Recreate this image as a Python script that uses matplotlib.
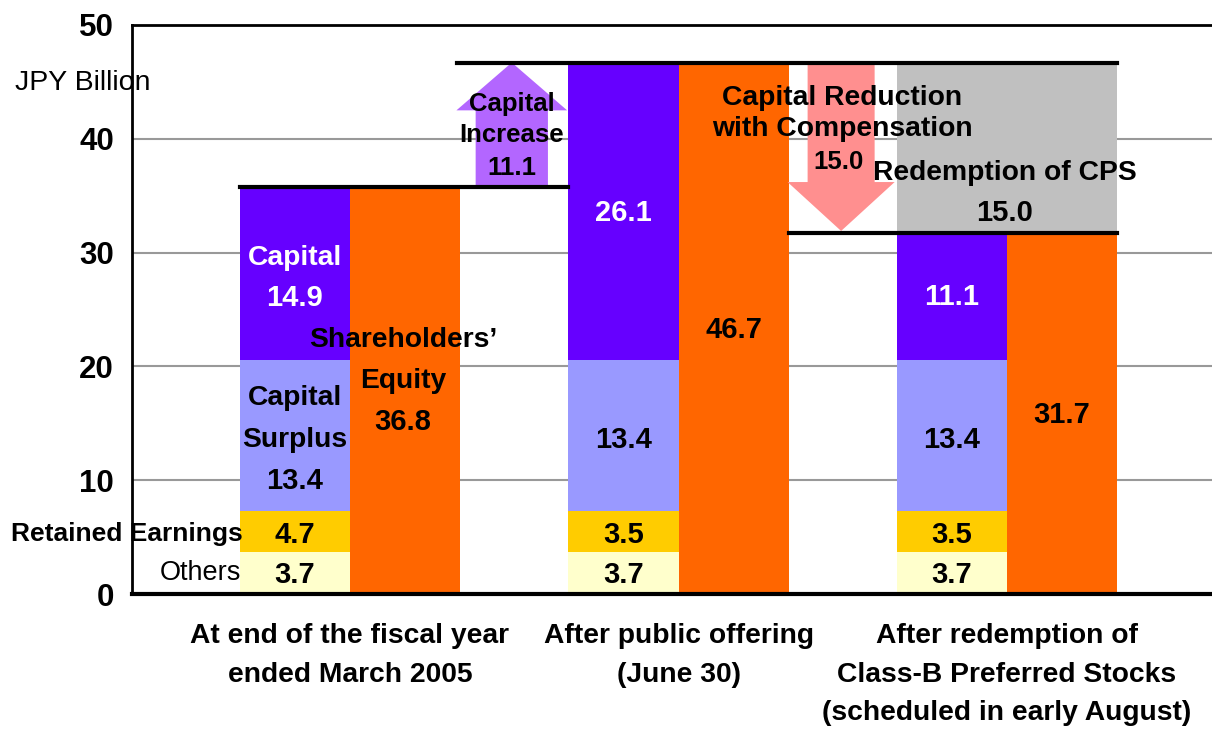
import numpy as np
import matplotlib
matplotlib.use('Agg')
import matplotlib.pyplot as plt
from matplotlib.patches import Polygon

plt.rcParams['font.family'] = ['Liberation Sans', 'DejaVu Sans']

# data (JPY billion)
categories = ['At end of the fiscal year\nended March 2005',
              'After public offering\n(June 30)',
              'After redemption of\nClass-B Preferred Stocks\n(scheduled in early August)']
others = [3.7, 3.7, 3.7]
retained = [3.6, 3.6, 3.6]
surplus = [13.3, 13.3, 13.3]
capital = [15.2, 26.1, 11.1]
equity = [35.8, 46.7, 31.7]
cps_redeemed = 15.0

others_lbl = ['3.7', '3.7', '3.7']
retained_lbl = ['4.7', '3.5', '3.5']
surplus_lbl = ['13.4', '13.4', '13.4']
capital_lbl = ['14.9', '26.1', '11.1']
equity_lbl = ['36.8', '46.7', '31.7']

c_others = '#FFFFCC'
c_ret = '#FFCC00'
c_sur = '#9999FF'
c_cap = '#6600FF'
c_eq = '#FF6600'

x = np.arange(3)
w = 0.335
xs = x - w/2   # stacked bars
xe = x + w/2   # equity bars

fig = plt.figure(figsize=(12.12, 7.31), dpi=100)
ax = fig.add_axes([132/1212, 1-594/731, 1-132/1212, (594-25)/731])

b1 = np.array(others)
b2 = b1 + np.array(retained)
b3 = b2 + np.array(surplus)
ax.bar(xs, others, w, color=c_others, zorder=2)
ax.bar(xs, retained, w, bottom=b1, color=c_ret, zorder=2)
ax.bar(xs, surplus, w, bottom=b2, color=c_sur, zorder=2)
ax.bar(xs, capital, w, bottom=b3, color=c_cap, zorder=2)
ax.bar(xe, equity, w, color=c_eq, zorder=2)
# redemption of CPS (grey block over last group)
ax.bar(x[2], cps_redeemed, 2*w, bottom=equity[2], color='#C0C0C0', zorder=2)

# level lines
ax.plot([xs[0]-w/2, xs[1]-w/2], [equity[0]]*2, color='black', lw=3, zorder=4)
ax.plot([xe[0]+w/2 - 0.01, xe[2]+w/2], [equity[1]]*2, color='black', lw=3, zorder=4)
ax.plot([xe[1]+w/2, xe[2]+w/2], [equity[2]]*2, color='black', lw=3, zorder=4)

# arrows
def arrow(xc, y0, y1, yh, sw, hw, color):
    pts = [(xc-sw/2, y0), (xc-sw/2, yh), (xc-hw/2, yh), (xc, y1),
           (xc+hw/2, yh), (xc+sw/2, yh), (xc+sw/2, y0)]
    ax.add_patch(Polygon(pts, closed=True, color=color, lw=0, zorder=3))

arrow(0.4925, equity[0], equity[1], 42.5, 0.22, 0.337, '#B366FF')
arrow(1.495, equity[1], equity[2] + 0.2, 36.2, 0.204, 0.326, '#FF8F8F')

fs = 20.3
fn = 21
kw = dict(ha='center', va='center', fontsize=fs, fontweight='bold', zorder=6)
kn = dict(kw, fontsize=fn)
for i in range(3):
    ax.text(xs[i], 1.7, others_lbl[i], **kn)
    ax.text(xs[i], 5.2, retained_lbl[i], **kn)
    ax.text(xs[i], 9.9 if i == 0 else 13.5, surplus_lbl[i], **kn)

ax.text(xs[0], 29.5, 'Capital', color='white', **kw)
ax.text(xs[0], 26.0, capital_lbl[0], color='white', **kn)
ax.text(xs[1], 33.5, capital_lbl[1], color='white', **kn)
ax.text(xs[2], 26.1, capital_lbl[2], color='white', **kn)
ax.text(xs[0], 17.2, 'Capital', **kw)
ax.text(xs[0], 13.5, 'Surplus', **kw)

ax.text(0.161, 22.3, 'Shareholders\u2019', **kw)
ax.text(0.161, 18.7, 'Equity', **kw)
ax.text(0.161, 15.1, equity_lbl[0], **kn)
ax.text(xe[1], 23.2, equity_lbl[1], **kn)
ax.text(xe[2], 15.7, equity_lbl[2], **kn)

ax.text(-0.326, 5.3, 'Retained Earnings', ha='right', va='center',
        fontsize=19, fontweight='bold', zorder=6)
ax.text(-0.332, 1.85, 'Others', ha='right', va='center', fontsize=19.5, zorder=6)

kw2 = dict(kw, fontsize=18.5)
ax.text(0.493, 43.1, 'Capital', **kw2)
ax.text(0.493, 40.3, 'Increase', **kw2)
ax.text(0.493, 37.4, '11.1', **kw2)

ax.text(1.498, 43.6, 'Capital Reduction', **kw)
ax.text(1.498, 40.9, 'with Compensation', **kw)
ax.text(1.486, 38.0, '15.0', **kw2)
ax.text(1.994, 37.0, 'Redemption of CPS', **kw)
ax.text(1.994, 33.5, '15.0', **kn)

fig.text(83/1212, 1-83/731, 'JPY Billion', ha='center', va='center', fontsize=20.5)

# axes styling
ax.set_xlim(-0.6636, 2.624)
ax.set_ylim(0, 50)
ax.set_yticks(np.arange(0, 51, 10))
ax.set_yticklabels([str(v) for v in range(0, 51, 10)], fontsize=22.5, fontweight='bold')
ax.set_xticks(x)
ax.set_xticklabels(categories, fontsize=20.3, fontweight='bold', linespacing=1.62)
ax.tick_params(axis='y', length=0, pad=13)
ax.tick_params(axis='x', length=0, pad=21)
ax.yaxis.grid(True, color='#999999', lw=1.5, zorder=0)
ax.set_axisbelow(True)
ax.spines['right'].set_visible(False)
ax.spines['left'].set_linewidth(2)
ax.spines['top'].set_linewidth(2)
ax.spines['bottom'].set_linewidth(3)
for sp in ax.spines.values():
    sp.set_zorder(5)

plt.savefig('out.png', dpi=100)
